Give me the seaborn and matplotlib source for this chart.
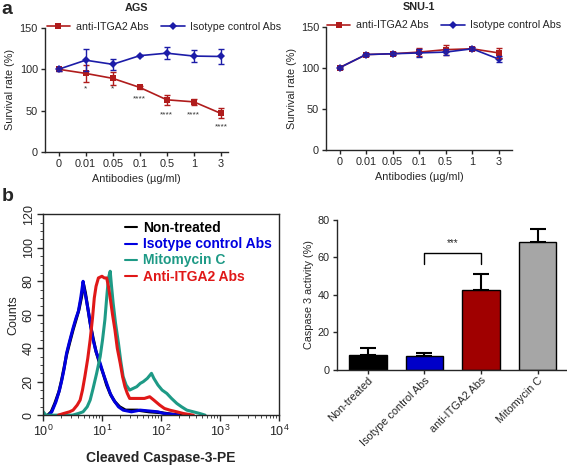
import numpy as np
import pandas as pd
import matplotlib
matplotlib.use("Agg")
import matplotlib.pyplot as plt
from matplotlib.ticker import AutoMinorLocator, LogLocator
import seaborn as sns

# ---- panel a: survival curves ----
doses = ["0", "0.01", "0.05", "0.1", "0.5", "1", "3"]

ags_anti = [100, 95, 89, 78, 63, 60.5, 46.5]
ags_anti_err = [1.5, 10, 8, 2, 6, 4, 6]
ags_iso = [100, 111, 106, 116.5, 119.5, 116, 115.5]
ags_iso_err = [1.5, 13, 7, 1, 7, 7, 9]
ags_stars = ["", "*", "*", "****", "****", "****", "****"]
ags_star_y = [0, 76, 76, 64, 45, 45, 30]

snu_anti = [100, 116, 117, 119, 122, 123, 118]
snu_anti_err = [1.5, 2, 2, 5, 6, 2, 6]
snu_iso = [100, 116, 117, 118, 119, 123, 110.5]
snu_iso_err = [1.5, 2, 2, 5, 4, 2, 4]

# ---- panel b: flow histogram (log10 fluorescence, counts) ----
black_logx = [0.08, 0.14, 0.2, 0.27, 0.31, 0.35, 0.4, 0.45, 0.51, 0.56, 0.61, 0.65, 0.69, 0.72,
              0.76, 0.8, 0.85, 0.9, 0.96, 1.02, 1.08, 1.15, 1.22, 1.3, 1.4, 1.6, 1.8, 2.0, 2.2, 2.35]
black_cnt = [0, 2, 7, 14, 20, 27, 36, 43, 51, 57, 63, 70, 78, 73,
             64, 55, 46, 38, 31, 25, 18, 12, 8, 5, 3, 3, 2, 1.5, 0.5, 0]
blue_logx = [0.1, 0.15, 0.22, 0.28, 0.32, 0.36, 0.4, 0.45, 0.51, 0.56, 0.6, 0.64, 0.68, 0.7, 0.73,
             0.77, 0.81, 0.85, 0.9, 0.97, 1.02, 1.08, 1.14, 1.2, 1.28, 1.36, 1.5, 1.65, 1.8, 1.95,
             2.05, 2.2, 2.3]
blue_cnt = [0, 2, 8, 15, 21, 28, 37, 44, 52, 58, 62, 70, 80, 75, 70,
            62, 53, 45, 38, 31, 25, 19, 13, 9, 5, 3, 2, 3, 2.5, 2,
            1, 0.5, 0]
teal_logx = [-0.02, 0.05, 0.5, 0.6, 0.68, 0.75, 0.8, 0.85, 0.91, 0.97, 1.01, 1.05, 1.08, 1.11,
             1.14, 1.16, 1.19, 1.23, 1.28, 1.32, 1.36, 1.41, 1.47, 1.53, 1.59, 1.65, 1.7, 1.77,
             1.84, 1.88, 1.95, 2.02, 2.1, 2.18, 2.27, 2.35, 2.44, 2.55, 2.66, 2.75]
teal_cnt = [3, 0, 0, 1, 2, 5, 9, 16, 25, 35, 45, 57, 70, 82,
            86, 78, 67, 55, 43, 32, 23, 18, 15, 16, 17, 19, 20, 22,
            25, 22, 18, 15, 13, 10, 7, 5, 3, 2, 1, 0]
red_logx = [0.26, 0.35, 0.45, 0.51, 0.58, 0.63, 0.67, 0.71, 0.76, 0.8, 0.84, 0.87, 0.9, 0.94,
            1.0, 1.04, 1.08, 1.11, 1.14, 1.18, 1.22, 1.26, 1.31, 1.35, 1.39, 1.43, 1.47, 1.55,
            1.64, 1.72, 1.81, 1.88, 1.98, 2.06, 2.15, 2.27, 2.38, 2.55]
red_cnt = [0, 1, 2, 3, 6, 9, 15, 23, 34, 45, 58, 70, 77, 82,
           83, 82, 82, 77, 70, 60, 51, 40, 31, 23, 17, 13, 10, 10,
           10, 10, 11, 9, 6, 4, 3, 2, 1, 0]

# ---- panel b: caspase bars ----
groups = ["Non-treated", "Isotype control Abs", "anti-ITGA2 Abs", "Mitomycin C"]
caspase = [8, 7.5, 42.5, 68]
caspase_err = [3.5, 1.5, 8.5, 7]

RED = "#b01c1c"
BLUE = "#1c1ca8"

sns.set_style("ticks")
plt.rcParams["font.family"] = ["Liberation Sans", "DejaVu Sans"]
plt.rcParams["mathtext.fontset"] = "custom"
plt.rcParams["mathtext.rm"] = "Liberation Sans"
plt.rcParams["axes.linewidth"] = 1.0
plt.rcParams["xtick.major.width"] = 1.0
plt.rcParams["ytick.major.width"] = 1.0

fig = plt.figure(figsize=(5.67, 4.67), dpi=100)


def survival(ax, anti, anti_err, iso, iso_err, title, xmax, leg_x):
    pos = np.arange(len(doses))
    df = pd.DataFrame({"x": np.r_[pos, pos], "y": anti + iso,
                       "grp": ["anti-ITGA2 Abs"] * 7 + ["Isotype control Abs"] * 7})
    sns.lineplot(data=df, x="x", y="y", hue="grp", style="grp",
                 palette=[RED, BLUE], markers=["s", "D"], dashes=False,
                 markersize=4.5, markeredgewidth=0, linewidth=1.2, ax=ax)
    ax.errorbar(pos, anti, yerr=anti_err, fmt="none", ecolor=RED, elinewidth=1, capsize=2.5)
    ax.errorbar(pos, iso, yerr=iso_err, fmt="none", ecolor=BLUE, elinewidth=1, capsize=2.5)
    ax.set_xlim(-0.51, xmax)
    ax.set_ylim(0, 150)
    ax.set_yticks([0, 50, 100, 150])
    ax.set_xticks(pos)
    ax.set_xticklabels(doses)
    ax.tick_params(labelsize=7.8, length=3, pad=2)
    ax.set_xlabel("Antibodies (µg/ml)", fontsize=7.8, labelpad=4)
    ax.set_ylabel("Survival rate (%)", fontsize=7.8, labelpad=3)
    ax.set_title(title, fontsize=7.8, fontweight="bold", pad=12)
    sns.despine(ax=ax)
    ax.legend(loc="center", bbox_to_anchor=(leg_x, 1.01), ncol=2, frameon=False,
              fontsize=7.7, handlelength=2.2, columnspacing=1.2, handletextpad=0.5,
              borderaxespad=0, borderpad=0)


ax1 = fig.add_axes([0.079, 0.675, 0.323, 0.265])
survival(ax1, ags_anti, ags_anti_err, ags_iso, ags_iso_err, "AGS", 6.26, 0.65)
for i, (s, y) in enumerate(zip(ags_stars, ags_star_y)):
    if s:
        ax1.text(i, y, s, ha="center", va="center", fontsize=6, color="#333333")

ax2 = fig.add_axes([0.575, 0.679, 0.328, 0.264])
survival(ax2, snu_anti, snu_anti_err, snu_iso, snu_iso_err, "SNU-1", 6.5, 0.635)

# histogram
ax3 = fig.add_axes([0.0758, 0.111, 0.416, 0.430])
curves = [("Non-treated", black_logx, black_cnt, "black"),
          ("Isotype control Abs", blue_logx, blue_cnt, "#0000e0"),
          ("Mitomycin C", teal_logx, teal_cnt, "#1e9a86"),
          ("Anti-ITGA2 Abs", red_logx, red_cnt, "#e01818")]
for name, lx, cnt, col in curves:
    sns.lineplot(x=10 ** np.array(lx), y=cnt, color=col, linewidth=2.2, ax=ax3,
                 label=name, estimator=None, sort=False)
ax3.set_xscale("log")
ax3.set_xlim(1, 1e4)
ax3.set_ylim(0, 120)
ax3.set_yticks([0, 20, 40, 60, 80, 100, 120])
ax3.yaxis.set_minor_locator(AutoMinorLocator(4))
ax3.xaxis.set_minor_locator(LogLocator(base=10, subs=np.arange(2, 10), numticks=20))
ax3.tick_params(which="major", labelsize=9, length=4, pad=2)
ax3.tick_params(which="minor", length=2.5)
for t in ax3.get_yticklabels():
    t.set_rotation(90)
    t.set_va("center")
ax3.set_ylabel("Counts", fontsize=9, labelpad=2)
ax3.set_xlabel("Cleaved Caspase-3-PE", fontsize=10, fontweight="bold", labelpad=9)
leg = ax3.legend(loc="upper right", frameon=False, fontsize=10, handlelength=0.9,
                 handletextpad=0.4, labelspacing=0.15, borderaxespad=0.1)
for txt, (_, _, _, col) in zip(leg.get_texts(), curves):
    txt.set_color(col)
    txt.set_fontweight("bold")
for h in leg.get_lines():
    h.set_linewidth(1.5)

# bars
ax4 = fig.add_axes([0.594, 0.208, 0.406, 0.321])
sns.barplot(x=groups, y=caspase, hue=groups, palette=["black", "#0000c8", "#a00000", "#a6a6a6"],
            saturation=1, edgecolor="black", linewidth=1, width=0.66, legend=False, ax=ax4)
ax4.errorbar(range(4), caspase, yerr=[np.zeros(4), caspase_err], fmt="none", ecolor="black",
             elinewidth=1.5, capsize=6, capthick=1.5)
ax4.set_xlim(-0.55, 3.52)
ax4.set_ylim(0, 80)
ax4.set_yticks([0, 20, 40, 60, 80])
ax4.tick_params(axis="y", labelsize=7.8, length=3, pad=2)
ax4.tick_params(axis="x", labelsize=7.8, length=3, pad=1)
for t in ax4.get_xticklabels():
    t.set_rotation(45)
    t.set_ha("right")
    t.set_rotation_mode("anchor")
ax4.set_ylabel("Caspase 3 activity (%)", fontsize=7.8, labelpad=3)
sns.despine(ax=ax4)
ax4.plot([1, 1, 2, 2], [56.5, 62.5, 62.5, 56.5], color="black", linewidth=1)
ax4.text(1.5, 65, "***", ha="center", va="bottom", fontsize=7)

fig.text(0.003, 0.998, "a", fontsize=14, fontweight="bold", va="top", ha="left")
fig.text(0.003, 0.56, "b", fontsize=14, fontweight="bold", va="bottom", ha="left")

fig.savefig("out.png", dpi=100)
